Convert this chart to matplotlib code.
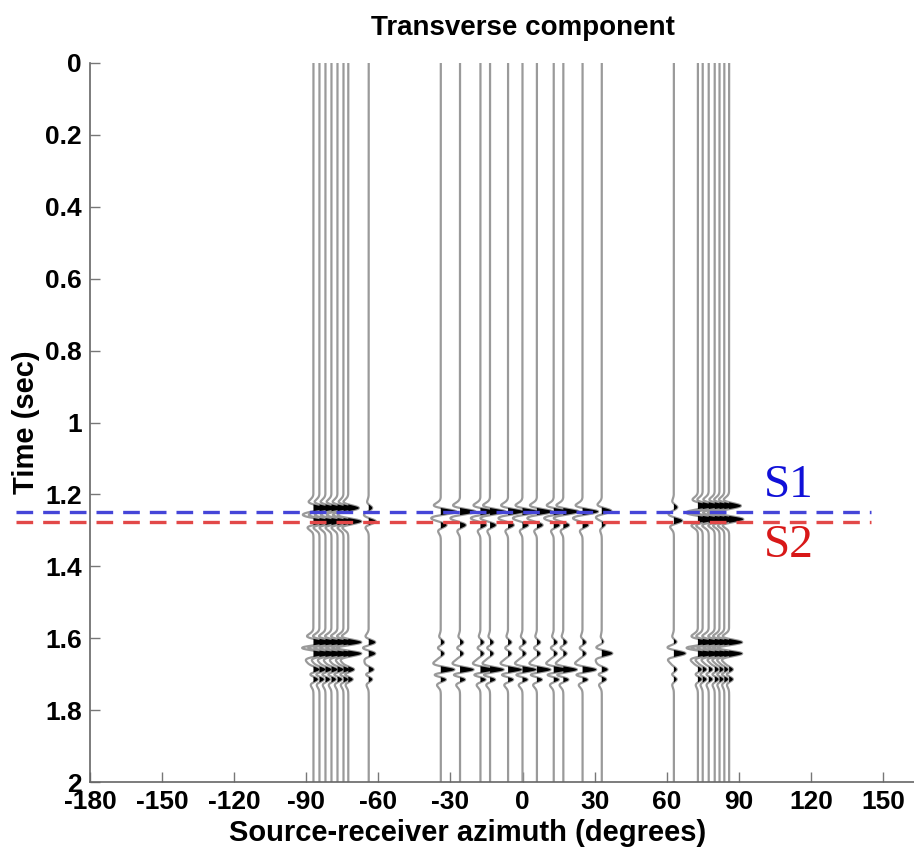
import numpy as np
import matplotlib

matplotlib.use("Agg")
import matplotlib.pyplot as plt

# Trace azimuths (degrees)
azimuths = [-87, -84.5, -82, -79.5, -77, -74.5, -72.5, -64,
            -34, -26, -17.5, -13.5, -6, 0, 6, 13, 17, 25, 33,
            63, 73, 75, 77.5, 80, 82, 84, 86]

# Arrival times (sec): S1, S2 and four later arrivals
phase_times = [1.238, 1.275, 1.612, 1.642, 1.688, 1.713]

# Per-trace shift of the S1/S2 arrivals (sec)
s_shift = [0, 0, 0, 0, 0, 0, 0, 0,
           0.01, 0.01, 0.01, 0.01, 0.01, 0.01, 0.01, 0.01, 0.01, 0.01, 0.008,
           -0.002, -0.006, -0.006, -0.006, -0.006, -0.006, -0.006, -0.006]

# Per-trace amplitude (degrees) of each arrival, columns follow phase_times
amp_left = [4.5, 5.5, 6.0, 6.0, 3.0, 2.5]
amp_m64 = [1.5, 3.0, 3.0, 3.0, 2.5, 2.0]
amp_mid = [6.5, 2.5, 1.5, 1.5, 6.5, 3.5]
amp_33 = [4.0, 1.5, 1.0, 4.5, 3.0, 2.5]
amp_63 = [1.5, 3.5, 1.5, 5.0, 1.5, 1.5]
amp_right = [5.0, 6.0, 6.0, 6.0, 2.0, 2.0]
amplitudes = [amp_left] * 7 + [amp_m64] + [amp_mid] * 10 + [amp_33] + [amp_63] + [amp_right] * 7

s1_time, s2_time = 1.248, 1.276
x_ticks = list(range(-180, 151, 30))
y_ticks = [0, 0.2, 0.4, 0.6, 0.8, 1, 1.2, 1.4, 1.6, 1.8, 2]
y_ticklabels = ["0", "0.2", "0.4", "0.6", "0.8", "1", "1.2", "1.4", "1.6", "1.8", "2"]

plt.rcParams["font.family"] = ["Liberation Sans", "DejaVu Sans"]
plt.rcParams["axes.unicode_minus"] = False


def ricker(t, f=22.0):
    a = (np.pi * f * t) ** 2
    return (1 - 2 * a) * np.exp(-a)


fig = plt.figure(figsize=(9.14, 8.52), dpi=100)
ax = fig.add_axes([90 / 914, 70 / 852, 865 / 914, 719 / 852])

t = np.linspace(0, 2, 4001)
for az, amps, sh in zip(azimuths, amplitudes, s_shift):
    trace = np.zeros_like(t)
    for k, (t0, a) in enumerate(zip(phase_times, amps)):
        t0 = t0 + sh if k < 2 else t0
        trace += a * ricker(t - t0)
    x = az + trace
    ax.fill_betweenx(t, az, x, where=trace > 0, color="black", lw=0, interpolate=True, zorder=3)
    ax.plot(x, t, color="#9a9a9a", lw=1.6, zorder=2)

ax.plot([-211, 145], [s1_time, s1_time], color="#4545d8", lw=2.4, ls=(0, (5, 3)),
        clip_on=False, zorder=4)
ax.plot([-211, 145], [s2_time, s2_time], color="#e24848", lw=2.4, ls=(0, (5, 3)),
        clip_on=False, zorder=4)
ax.text(111, 1.177, "S1", color="#1010d8", fontsize=34, family="Liberation Serif",
        ha="center", va="center")
ax.text(111, 1.343, "S2", color="#d81818", fontsize=34, family="Liberation Serif",
        ha="center", va="center")

ax.set_xlim(-180, 180)
ax.set_ylim(2, 0)
ax.set_xticks(x_ticks)
ax.set_yticks(y_ticks, y_ticklabels)
ax.tick_params(direction="in", length=7, width=1, color="#777", labelsize=19, pad=6)
for lab in ax.get_xticklabels() + ax.get_yticklabels():
    lab.set_fontweight("bold")
for side in ("top", "right"):
    ax.spines[side].set_visible(False)
for side in ("left", "bottom"):
    ax.spines[side].set_color("#666")
    ax.spines[side].set_linewidth(1.2)

ax.set_title("Transverse component", fontsize=20, fontweight="bold", pad=20)
ax.set_xlabel("Source-receiver azimuth (degrees)", fontsize=21, fontweight="bold")
ax.xaxis.set_label_coords((468 - 90) / 865, -0.052)
ax.set_ylabel("Time (sec)", fontsize=21, fontweight="bold")
ax.yaxis.set_label_coords(-0.058, 0.5)

fig.savefig("out.png", dpi=100)
